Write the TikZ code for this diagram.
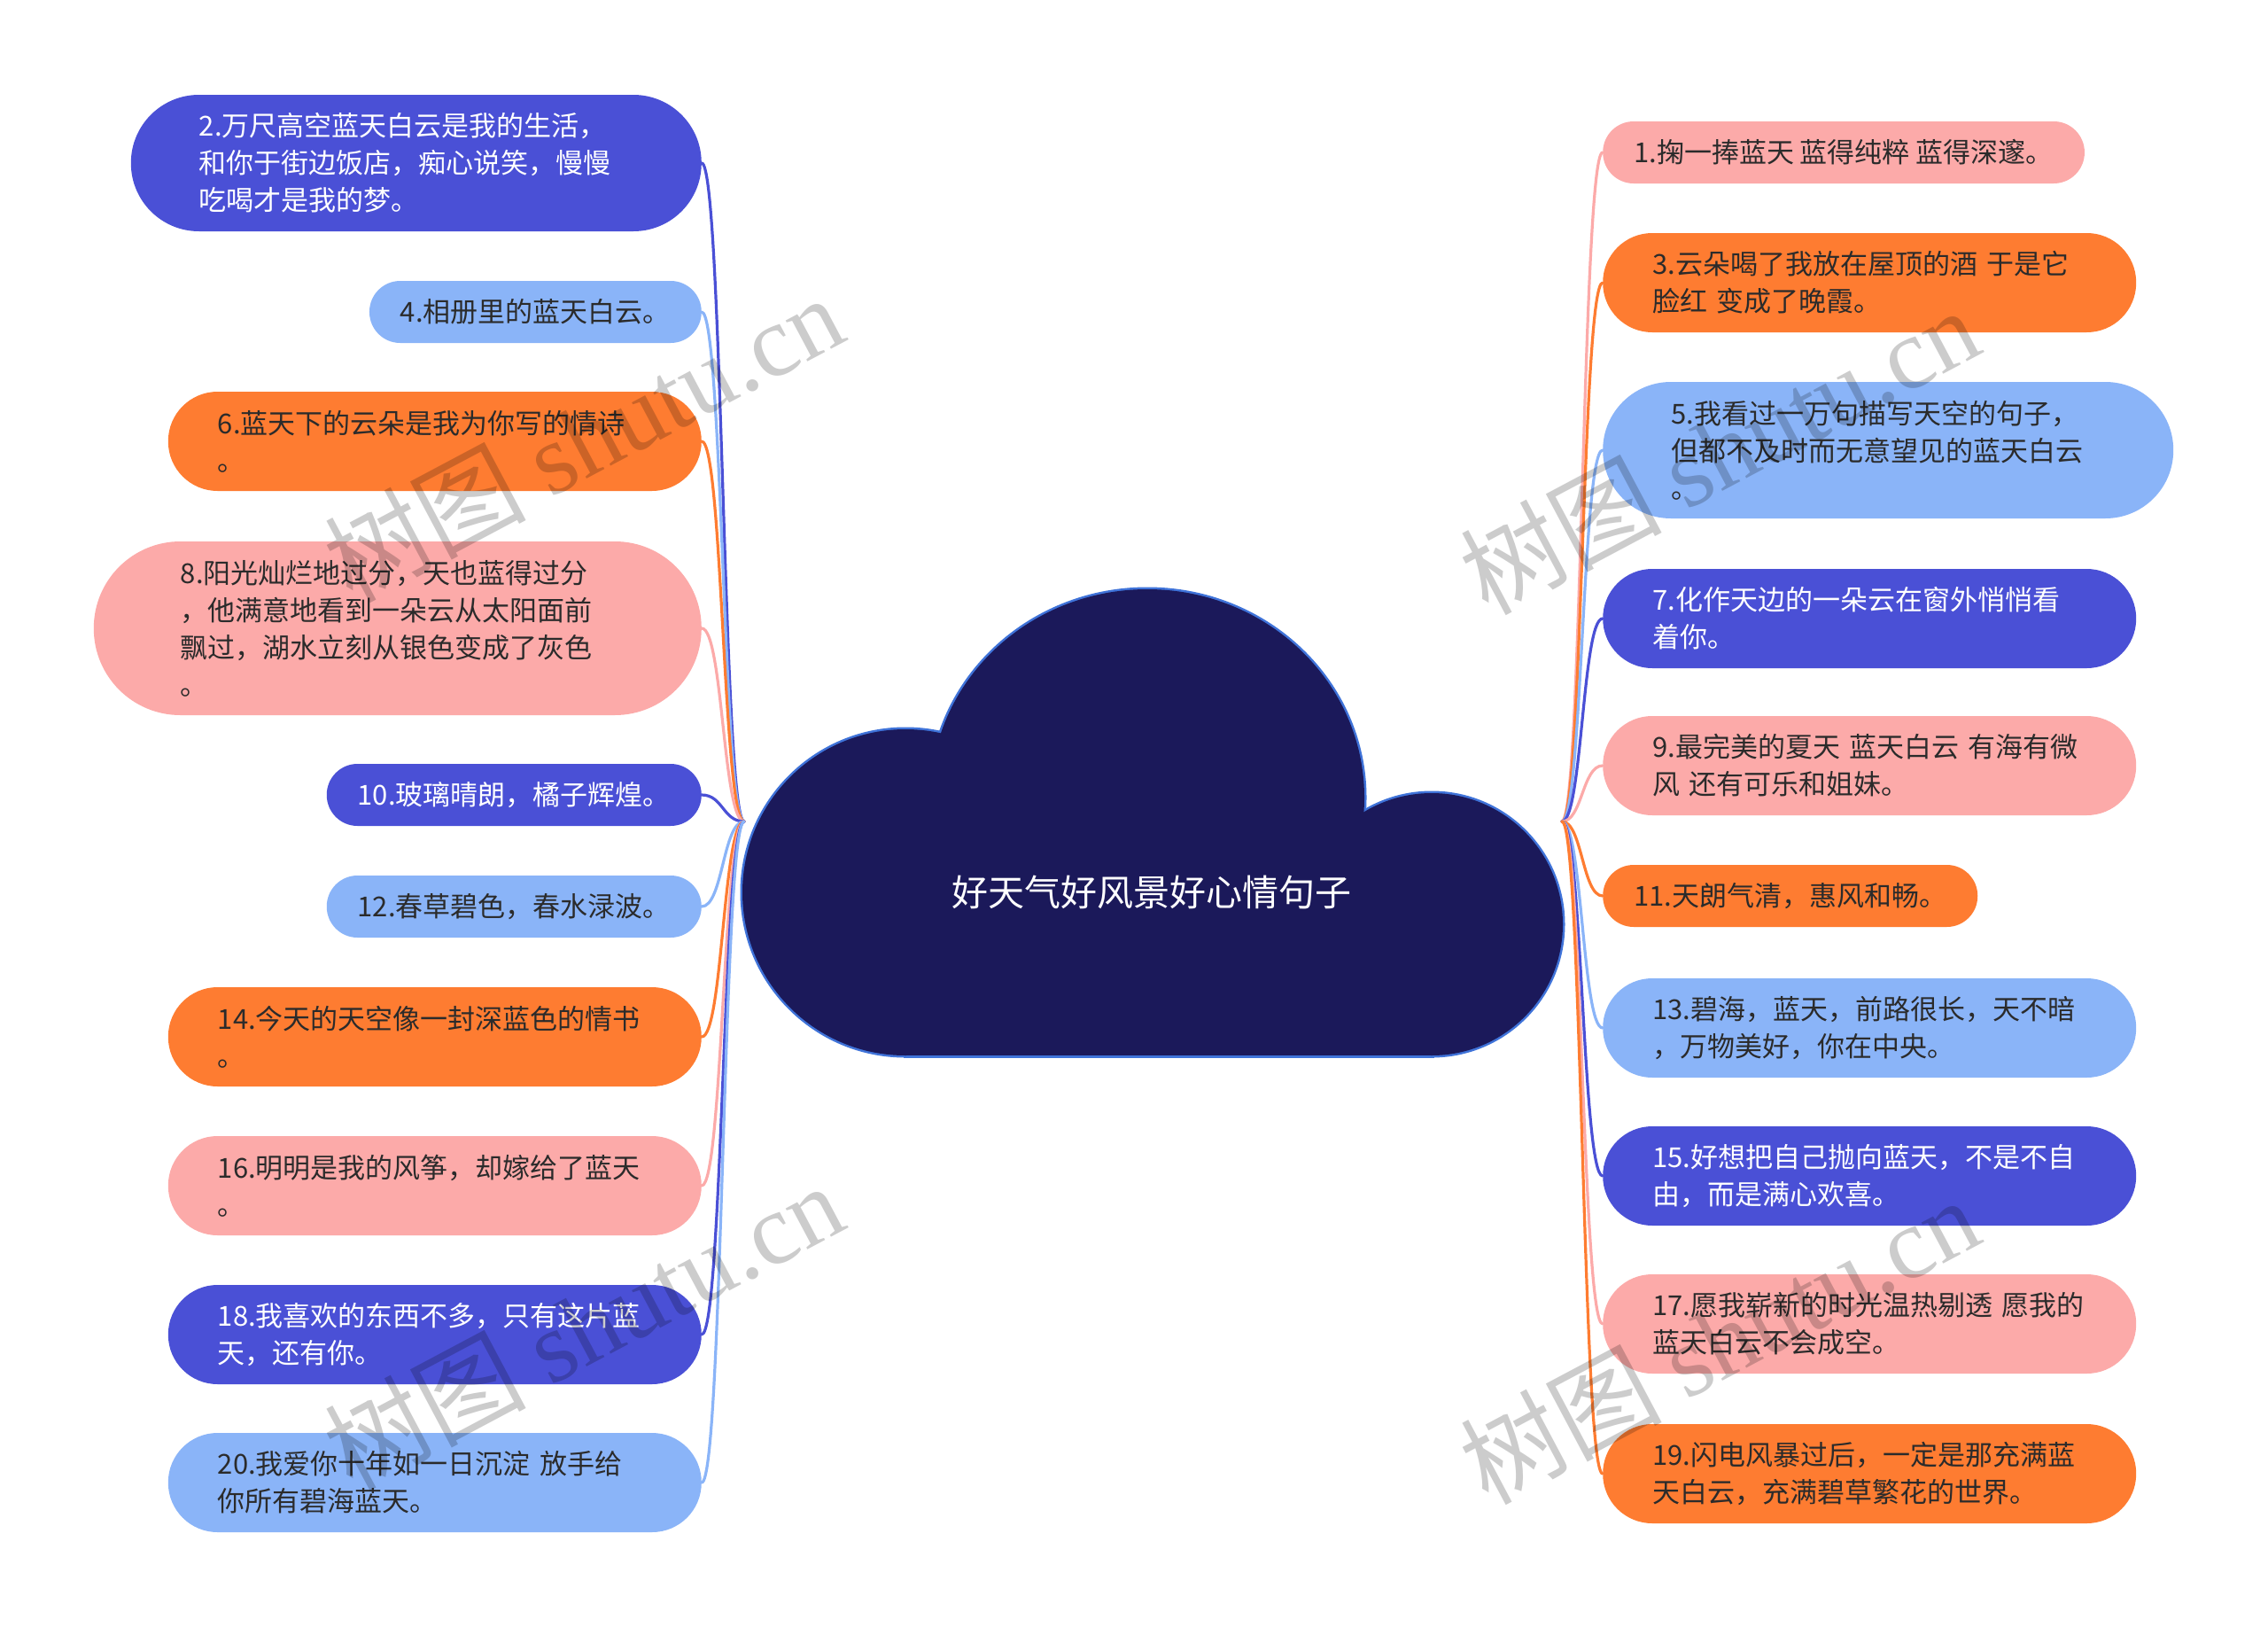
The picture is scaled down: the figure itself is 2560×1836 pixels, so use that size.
\documentclass[tikz,border=0pt]{standalone}
\usepackage{fontspec}
\setmainfont{Noto Sans CJK SC}
\newfontfamily\wmlat{Liberation Serif}
\definecolor{dblue}{HTML}{4A50D6}
\definecolor{lblue}{HTML}{8AB4F8}
\definecolor{orng}{HTML}{FE7C31}
\definecolor{pnk}{HTML}{FCAAA9}
\definecolor{navy}{HTML}{1B195A}
\definecolor{cloudedge}{HTML}{3F73D9}
\definecolor{txt}{HTML}{2B2B2B}
\tikzset{
  pill/.style={rectangle, inner ysep=0pt, font=\fontsize{31}{42}\selectfont, align=left, text=txt},
  one/.style={pill, minimum height=70pt, inner xsep=35pt, rounded corners=34.8pt},
  two/.style={pill, minimum height=112pt, inner xsep=56pt, rounded corners=55.8pt, text width=490pt},
  three/.style={pill, minimum height=154pt, inner xsep=77pt, rounded corners=76.8pt, text width=490pt},
  four/.style={pill, minimum height=196pt, inner xsep=98pt, rounded corners=97.8pt, text width=490pt},
  conn/.style={line width=3.2pt, line cap=round},
  wm/.style={text=black, text opacity=0.2, font=\fontsize{114}{114}\selectfont, rotate=28},
  cloudline/.style={draw=cloudedge, line width=5pt},
}
\begin{document}
\begin{tikzpicture}[x=1pt,y=-1pt]
\useasboundingbox (0,0) rectangle (2560,1836);
\fill[white] (0,0) rectangle (2560,1836);

\coordinate (hubL) at (840,927);
\coordinate (hubR) at (1763,927);

% left nodes
\node[three, fill=dblue, text=white, anchor=east] (n2) at (792,184) {2.万尺高空蓝天白云是我的生活，\\和你于街边饭店，痴心说笑，慢慢\\吃喝才是我的梦。};
\node[one, fill=lblue, anchor=east] (n4) at (792,352) {4.相册里的蓝天白云。};
\node[two, fill=orng, anchor=east] (n6) at (792,498) {6.蓝天下的云朵是我为你写的情诗\\。};
\node[four, fill=pnk, anchor=east] (n8) at (792,709) {8.阳光灿烂地过分，天也蓝得过分\\，他满意地看到一朵云从太阳面前\\飘过，湖水立刻从银色变成了灰色\\。};
\node[one, fill=dblue, text=white, anchor=east] (n10) at (792,897) {10.玻璃晴朗，橘子辉煌。};
\node[one, fill=lblue, anchor=east] (n12) at (792,1023) {12.春草碧色，春水渌波。};
\node[two, fill=orng, anchor=east] (n14) at (792,1170) {14.今天的天空像一封深蓝色的情书\\。};
\node[two, fill=pnk, anchor=east] (n16) at (792,1338) {16.明明是我的风筝，却嫁给了蓝天\\。};
\node[two, fill=dblue, text=white, anchor=east] (n18) at (792,1506) {18.我喜欢的东西不多，只有这片蓝\\天，还有你。};
\node[two, fill=lblue, anchor=east] (n20) at (792,1673) {20.我爱你十年如一日沉淀~放手给\\你所有碧海蓝天。};

% right nodes
\node[one, fill=pnk, anchor=west] (n1) at (1809,172) {1.掬一捧蓝天 蓝得纯粹 蓝得深邃。};
\node[two, fill=orng, anchor=west] (n3) at (1809,319) {3.云朵喝了我放在屋顶的酒~于是它\\脸红~变成了晚霞。};
\node[three, fill=lblue, anchor=west] (n5) at (1809,508) {5.我看过一万句描写天空的句子，\\但都不及时而无意望见的蓝天白云\\。};
\node[two, fill=dblue, text=white, anchor=west] (n7) at (1809,698) {7.化作天边的一朵云在窗外悄悄看\\着你。};
\node[two, fill=pnk, anchor=west] (n9) at (1809,864) {9.最完美的夏天~蓝天白云~有海有微\\风~还有可乐和姐妹。};
\node[one, fill=orng, anchor=west] (n11) at (1809,1011) {11.天朗气清，惠风和畅。};
\node[two, fill=lblue, anchor=west] (n13) at (1809,1160) {13.碧海，蓝天，前路很长，天不暗\\，万物美好，你在中央。};
\node[two, fill=dblue, text=white, anchor=west] (n15) at (1809,1327) {15.好想把自己抛向蓝天，不是不自\\由，而是满心欢喜。};
\node[two, fill=pnk, anchor=west] (n17) at (1809,1494) {17.愿我崭新的时光温热剔透~愿我的\\蓝天白云不会成空。};
\node[two, fill=orng, anchor=west] (n19) at (1809,1663) {19.闪电风暴过后，一定是那充满蓝\\天白云，充满碧草繁花的世界。};

% connectors
\foreach \n/\c in {n2/dblue,n4/lblue,n6/orng,n8/pnk,n10/dblue,n12/lblue,n14/orng,n16/pnk,n18/dblue,n20/lblue}{
  \draw[conn, \c] (\n.east) .. controls +(24,0) and +(-24,0) .. (hubL);
}
\foreach \n/\c in {n1/pnk,n3/orng,n5/lblue,n7/dblue,n9/pnk,n11/orng,n13/lblue,n15/dblue,n17/pnk,n19/orng}{
  \draw[conn, \c] (\n.west) .. controls +(-23,0) and +(23,0) .. (hubR);
}

% cloud
\draw[cloudline] (1022,1007) circle[radius=184pt];
\draw[cloudline] (1295,900) ellipse[x radius=245pt, y radius=235pt];
\draw[cloudline] (1616,1043) circle[radius=148pt];
\draw[cloudline] (1022,1000) rectangle (1616,1191);
\fill[navy] (1022,1007) circle[radius=184pt];
\fill[navy] (1295,900) ellipse[x radius=245pt, y radius=235pt];
\fill[navy] (1616,1043) circle[radius=148pt];
\fill[navy] (1022,1000) rectangle (1616,1191);
\node[text=white, font=\fontsize{41}{41}\selectfont] (center) at (1300,1007) {好天气好风景好心情句子};

% watermarks
\node[wm] (wm1) at (658,494) {树图 {\wmlat shutu.cn}};
\node[wm] (wm2) at (1940,508) {树图 {\wmlat shutu.cn}};
\node[wm] (wm3) at (658,1496) {树图 {\wmlat shutu.cn}};
\node[wm] (wm4) at (1940,1512) {树图 {\wmlat shutu.cn}};
\end{tikzpicture}
\end{document}
